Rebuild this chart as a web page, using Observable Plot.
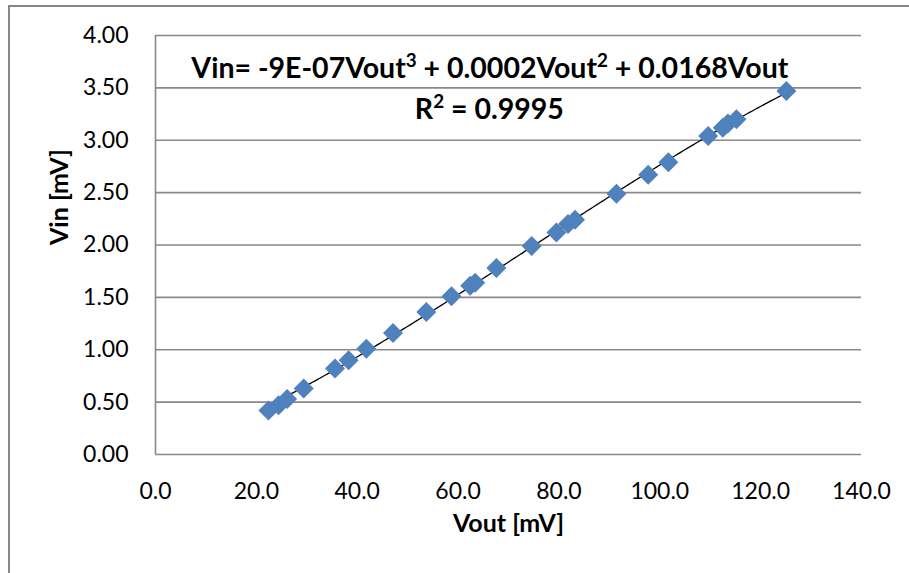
<!DOCTYPE html>
<html><head><meta charset="utf-8">
<script src="https://cdn.jsdelivr.net/npm/d3@7"></script>
<script src="https://cdn.jsdelivr.net/npm/@observablehq/plot@0.6"></script>
<style>
body{margin:0;background:#fff;overflow:hidden}
#wrap{position:relative;width:909px;height:573px;overflow:hidden;background:#fff}
#border{position:absolute;left:8px;top:5px;width:960px;height:640px;border:2px solid #878787;box-sizing:border-box;pointer-events:none}
svg{display:block}
</style></head><body><div id="wrap"><div id="border"></div></div>
<script>
const vout = [22.4, 24.4, 26.1, 29.4, 35.6, 38.3, 41.8, 47.1, 53.7, 58.7, 62.4, 63.4, 67.6, 74.6, 79.5, 81.8, 83.2, 91.4, 97.7, 101.7, 109.6, 112.5, 113.5, 115.2, 125.1];
const vin  = [0.42, 0.47, 0.53, 0.63, 0.82, 0.90, 1.01, 1.16, 1.36, 1.51, 1.61, 1.64, 1.78, 1.99, 2.12, 2.20, 2.24, 2.49, 2.67, 2.79, 3.04, 3.12, 3.16, 3.20, 3.47];
const xTicks = [0, 20, 40, 60, 80, 100, 120, 140];
const yTicks = [0, 0.5, 1, 1.5, 2, 2.5, 3, 3.5, 4];
const equationText = "Vin= -9E-07Vout³ + 0.0002Vout² + 0.0168Vout";
const r2Text = "R² = 0.9995";
const xTitle = "Vout [mV]";
const yTitle = "Vin [mV]";

const points = vout.map((x, i) => ({x, y: vin[i]}));

// Polynomial trendline (order 3, through origin) fitted to the points by least squares
function fitCubicThroughOrigin(xs, ys) {
  const basis = x => [x * x * x, x * x, x];
  const A = [[0,0,0],[0,0,0],[0,0,0]], b = [0,0,0];
  xs.forEach((x, i) => {
    const f = basis(x);
    for (let r = 0; r < 3; r++) {
      b[r] += f[r] * ys[i];
      for (let c = 0; c < 3; c++) A[r][c] += f[r] * f[c];
    }
  });
  for (let p = 0; p < 3; p++) {
    let m = p;
    for (let r = p + 1; r < 3; r++) if (Math.abs(A[r][p]) > Math.abs(A[m][p])) m = r;
    [A[p], A[m]] = [A[m], A[p]]; [b[p], b[m]] = [b[m], b[p]];
    for (let r = p + 1; r < 3; r++) {
      const f = A[r][p] / A[p][p];
      for (let c = p; c < 3; c++) A[r][c] -= f * A[p][c];
      b[r] -= f * b[p];
    }
  }
  const s = [0,0,0];
  for (let r = 2; r >= 0; r--) {
    let v = b[r];
    for (let c = r + 1; c < 3; c++) v -= A[r][c] * s[c];
    s[r] = v / A[r][r];
  }
  return x => s[0] * x * x * x + s[1] * x * x + s[2] * x;
}
const fit = fitCubicThroughOrigin(vout, vin);
const [xmin, xmax] = d3.extent(vout);
const curve = d3.range(0, 201).map(i => {
  const x = xmin + (xmax - xmin) * i / 200;
  return {x, y: fit(x)};
});

const FONT = "Lato, 'Open Sans', sans-serif";
const GRID = "#898989";
const EQ_SIZE = 28.5;

const chart = Plot.plot({
  width: 909,
  height: 573,
  marginLeft: 155,
  marginRight: 48,
  marginTop: 35,
  marginBottom: 119,
  style: {fontFamily: FONT, background: "#fff", overflow: "visible"},
  x: {domain: [0, 140], ticks: xTicks, label: null},
  y: {domain: [0, 4], ticks: yTicks, label: null},
  marks: [
    Plot.gridY(yTicks, {stroke: GRID, strokeOpacity: 1, strokeWidth: 1.6}),
    Plot.ruleX([0], {stroke: GRID, strokeWidth: 1.6}),
    Plot.axisX(xTicks, {tickSize: 0, tickPadding: 28, fontSize: 23, fill: "#000", tickFormat: d => d.toFixed(1)}),
    Plot.axisY(yTicks, {tickSize: 0, tickPadding: 27, fontSize: 23, fill: "#000", tickFormat: d => d.toFixed(2)}),
    Plot.line(curve, {x: "x", y: "y", stroke: "#000", strokeWidth: 1.3}),
    Plot.dot(points, {x: "x", y: "y", symbol: "diamond2", r: 9, fill: "#4F81BD", stroke: "none"}),
    Plot.text([equationText], {x: 66.3, y: 3.685, text: d => d, fontSize: EQ_SIZE, fontWeight: "bold", fill: "#000", className: "eq"}),
    Plot.text([r2Text], {x: 66.2, y: 3.293, text: d => d, fontSize: EQ_SIZE, fontWeight: "bold", fill: "#000", className: "eq"}),
    Plot.text([xTitle], {frameAnchor: "bottom", dy: 77, text: d => d, fontSize: 25, fontWeight: "bold", fill: "#000"}),
    Plot.text([yTitle], {frameAnchor: "left", dx: -96, rotate: -90, text: d => d, fontSize: 25, fontWeight: "bold", fill: "#000"})
  ]
});
document.getElementById("wrap").prepend(chart);

// Render ² and ³ as real raised superscript tspans (Calibri-like proportions)
const supMap = {"²": "2", "³": "3"};
d3.select(chart).selectAll(".eq text").each(function() {
  const el = d3.select(this);
  const txt = el.text();
  el.text(null);
  const supSize = EQ_SIZE * 0.66, rise = EQ_SIZE * 0.36;
  let raised = false;
  let buf = "";
  const flush = () => { if (buf) { el.append("tspan").attr("dy", raised ? rise : 0).text(buf); raised = false; buf = ""; } };
  for (const ch of txt) {
    if (supMap[ch]) {
      flush();
      el.append("tspan").attr("dy", -rise).attr("font-size", supSize).text(supMap[ch]);
      raised = true;
    } else {
      buf += ch;
    }
  }
  flush();
});
</script>
</body></html>
